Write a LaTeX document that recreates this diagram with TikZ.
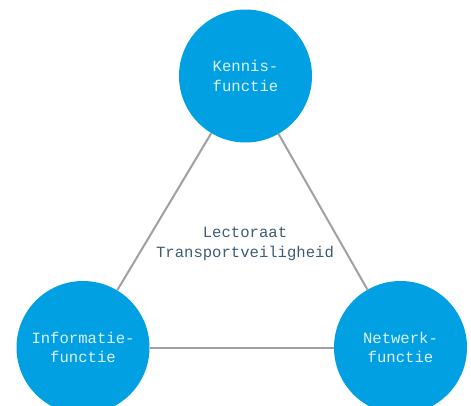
\documentclass[tikz,border=0pt]{standalone}
\usepackage{fontspec}
\setmonofont{Liberation Mono}
\usepackage{tikz}
\usetikzlibrary{positioning}

\definecolor{functieblauw}{RGB}{0,160,227}
\definecolor{functietekst}{RGB}{222,240,250}
\definecolor{lectoraattekst}{RGB}{62,92,118}
\definecolor{lijngrijs}{RGB}{160,160,160}

\tikzset{
  functie/.style={shape=circle,fill=functieblauw,draw=none,minimum size=133pt,inner sep=0pt,
    align=center,text=functietekst,font=\ttfamily\fontsize{15.6}{19.5}\selectfont},
  verbinding/.style={draw=lijngrijs,line width=2pt}
}

\begin{document}
\begin{tikzpicture}[x=1pt,y=-1pt]
				\useasboundingbox (0,0) rectangle (471,405);
				\clip (0,0) rectangle (471,405);

				\node[functie] (kennis) at (245.5,76) {Kennis-\\functie};
				\node[functie] (informatie) at (83,347.5) {Informatie-\\functie};
				\node[functie] (netwerk) at (400.5,347.5) {Netwerk-\\functie};
				\node[align=center,text=lectoraattekst,font=\ttfamily\fontsize{15.6}{19.5}\selectfont] (lectoraat) at (245,244) {Lectoraat\\Transportveiligheid};

				\draw[verbinding] (kennis) -- (informatie);
				\draw[verbinding] (informatie) -- (netwerk);
				\draw[verbinding] (kennis) -- (netwerk);
			\end{tikzpicture}
\end{document}
